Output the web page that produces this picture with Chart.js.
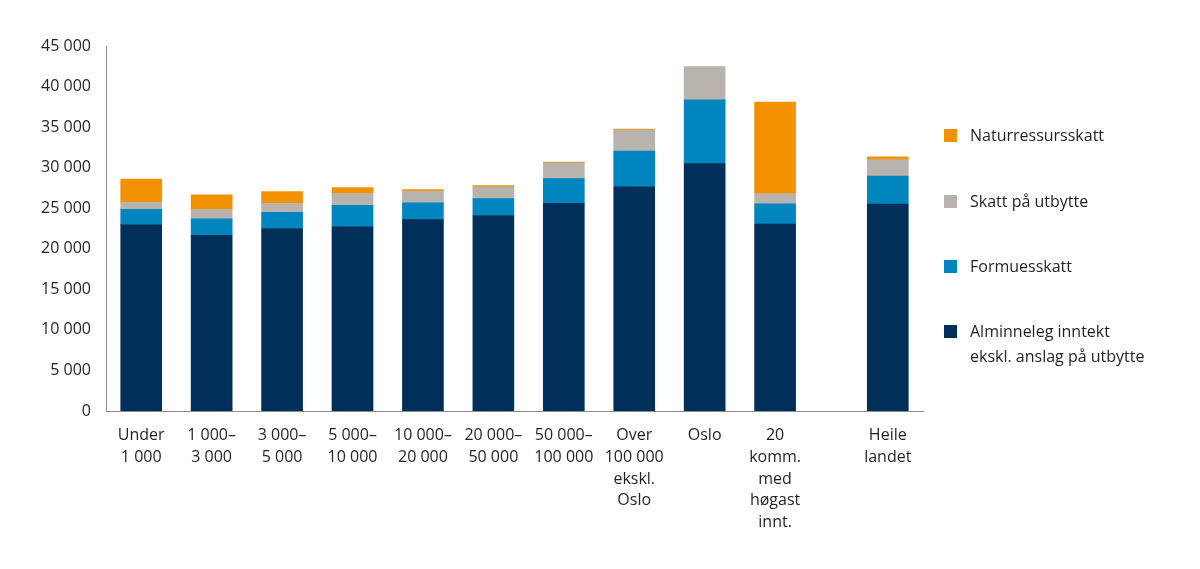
<!DOCTYPE html>
<html>
<head>
<meta charset="utf-8">
<script src="https://cdn.jsdelivr.net/npm/chart.js@4.4.1/dist/chart.umd.min.js"></script>
<style>
    body { margin: 0; background: #fff; }
    .wrap { position: relative; width: 1200px; height: 569px; }
    .legend { position: absolute; left: 944px; top: 0; font-family: "Open Sans", sans-serif; font-size: 16px; color: #231f20; }
    .legend .item { position: absolute; left: 0; white-space: nowrap; line-height: 25px; }
    .legend .box { position: absolute; left: 0; width: 13px; height: 13px; }
    .legend .txt { position: absolute; left: 26px; }
</style>
</head>
<body>
<div class="wrap">
    <canvas id="myChart"></canvas>
    <div class="legend" id="legend"></div>
</div>
<script>
// kategoriar (x), med eit lite mellomrom før "Heile landet"
const kategorier = [
    ["Under", "1 000"],
    ["1 000–", "3 000"],
    ["3 000–", "5 000"],
    ["5 000–", "10 000"],
    ["10 000–", "20 000"],
    ["20 000–", "50 000"],
    ["50 000–", "100 000"],
    ["Over", "100 000", "ekskl.", "Oslo"],
    ["Oslo"],
    ["20", "komm.", "med", "høgast", "innt."],
    ["Heile", "landet"]
];
const xPos = [0, 1, 2, 3, 4, 5, 6, 7, 8, 9, 10.6];

const alminneleg = [22950, 21650, 22500, 22700, 23600, 24100, 25600, 27650, 30500, 23050, 25500];
const formuesskatt = [1900, 2050, 2000, 2650, 2050, 2100, 3050, 4400, 7850, 2500, 3450];
const utbytte = [900, 1150, 1100, 1500, 1450, 1450, 1950, 2600, 4100, 1250, 2050];
const naturressurs = [2850, 1800, 1450, 700, 200, 150, 100, 100, 0, 11300, 350];

const yTicks = [0, 5000, 10000, 15000, 20000, 25000, 30000, 35000, 40000, 45000];

const serier = [
    { label: ['Alminneleg inntekt', 'ekskl. anslag på utbytte'], data: alminneleg, color: '#00305a' },
    { label: ['Formuesskatt'], data: formuesskatt, color: '#0085bf' },
    { label: ['Skatt på utbytte'], data: utbytte, color: '#b8b3ac' },
    { label: ['Naturressursskatt'], data: naturressurs, color: '#f39200' }
];
// legend-posisjon (midten av første linje)
const legendY = [331, 266, 201, 135];

function tal(v) {
    return v.toString().replace(/\B(?=(\d{3})+(?!\d))/g, ' ');
}

function lagLegend() {
    let html = '';
    for (let i = serier.length - 1; i >= 0; i--) {
        const s = serier[i];
        html += '<div class="item" style="top:' + (legendY[i] - 12.5) + 'px">' +
            '<div class="box" style="top:6px;background:' + s.color + '"></div>' +
            '<div class="txt">' + s.label.join('<br>') + '</div></div>';
    }
    document.getElementById('legend').innerHTML = html;
}

function graficar() {
    const datasets = serier.map(function(s) {
        return {
            label: s.label.join(' '),
            backgroundColor: s.color,
            borderWidth: 0,
            barThickness: 41,
            // 0 = ingen søyle (ikkje teikn ei tynn linje)
            data: s.data.map(function(v, i) { return { x: xPos[i], y: v === 0 ? null : v }; })
        };
    });

    const font = { family: '"Open Sans", sans-serif', size: 16, lineHeight: 1.35 };

    const config = {
        type: 'bar',
        data: { datasets: datasets },
        options: {
            responsive: true,
            maintainAspectRatio: false,
            animation: false,
            layout: { padding: { top: 46, right: 277, left: 0, bottom: 0 } },
            plugins: { legend: { display: false }, tooltip: { enabled: false } },
            scales: {
                x: {
                    type: 'linear',
                    stacked: true,
                    offset: false,
                    min: -0.5,
                    max: 11.1,
                    grid: { display: false, drawTicks: false },
                    border: { display: true, color: '#8c8c8c', width: 1 },
                    afterBuildTicks: function(scale) {
                        scale.ticks = xPos.map(function(v) { return { value: v }; });
                    },
                    afterFit: function(scale) { scale.height = 158; },
                    ticks: {
                        autoSkip: false,
                        maxRotation: 0,
                        padding: 14,
                        color: '#231f20',
                        font: font,
                        callback: function(value, index) { return kategorier[index]; }
                    }
                },
                y: {
                    stacked: true,
                    min: 0,
                    max: 45000,
                    grid: { display: false, drawTicks: false },
                    border: { display: true, color: '#8c8c8c', width: 1 },
                    afterBuildTicks: function(scale) {
                        scale.ticks = yTicks.map(function(v) { return { value: v }; });
                    },
                    afterFit: function(scale) { scale.width = 106; },
                    ticks: {
                        padding: 15,
                        color: '#231f20',
                        font: font,
                        callback: function(value) { return tal(value); }
                    }
                }
            }
        }
    };

    new Chart(document.getElementById('myChart'), config);
}

lagLegend();
graficar();
</script>
</body>
</html>
